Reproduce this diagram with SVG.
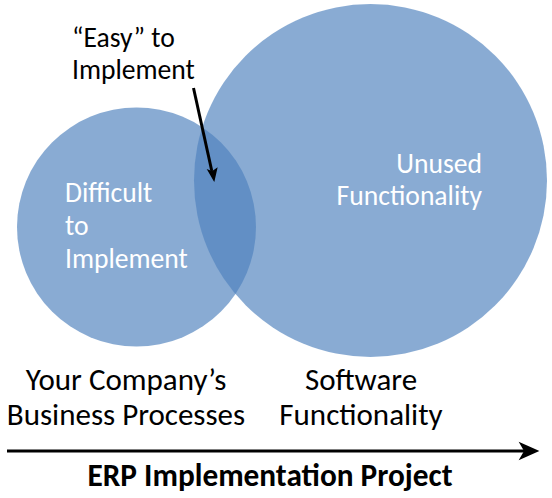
<svg xmlns="http://www.w3.org/2000/svg" width="552" height="498" viewBox="0 0 552 498">
  <style>
    .c { fill: #4F81BD; fill-opacity: 0.67; }
    .t { font-family: Carlito, Calibri, Lato, "Open Sans", sans-serif; font-size: 27.6px; }
    .L { font-size: 31px; }
    .w { fill: #FFFFFF; }
    .k { fill: #000000; }
    .b { font-weight: bold; font-size: 31.3px; }
  </style>
  <rect width="552" height="498" fill="#FFFFFF"/>
  <g id="business-processes">
    <circle class="c" cx="136.5" cy="227" r="119.5"/>
    <text class="t w" x="65" y="202">Difficult</text>
    <text class="t w" x="65" y="235">to</text>
    <text class="t w" x="65" y="268">Implement</text>
    <text class="t L k" x="126" y="390" text-anchor="middle">Your Company’s</text>
    <text class="t L k" x="126" y="425" text-anchor="middle">Business Processes</text>
  </g>
  <g id="software-functionality">
    <circle class="c" cx="370.5" cy="180.5" r="176.5"/>
    <text class="t w" x="482" y="173" text-anchor="end">Unused</text>
    <text class="t w" x="482" y="205" text-anchor="end">Functionality</text>
    <text class="t L k" x="361" y="390" text-anchor="middle">Software</text>
    <text class="t L k" x="361" y="425" text-anchor="middle">Functionality</text>
  </g>
  <g id="easy-label">
    <text class="t k" x="72" y="47">“Easy” to</text>
    <text class="t k" x="72" y="79">Implement</text>
  </g>
  <g id="project-label">
    <text class="t b k" x="270" y="486" text-anchor="middle">ERP Implementation Project</text>
  </g>
  <g id="connectors">
    <line x1="193.5" y1="88" x2="211.8" y2="171" stroke="#000" stroke-width="3"/>
    <path d="M214 180 L208.5 170.5 L212 172 L216.5 169 Z" fill="#000" stroke="#000" stroke-width="1.5" stroke-linejoin="miter"/>
    <line x1="7" y1="451" x2="527" y2="451" stroke="#000" stroke-width="3"/>
    <path d="M537.5 451 L520.5 443.5 L525 451 L520.5 458.5 Z" fill="#000" stroke="#000" stroke-width="1.5"/>
  </g>
</svg>
